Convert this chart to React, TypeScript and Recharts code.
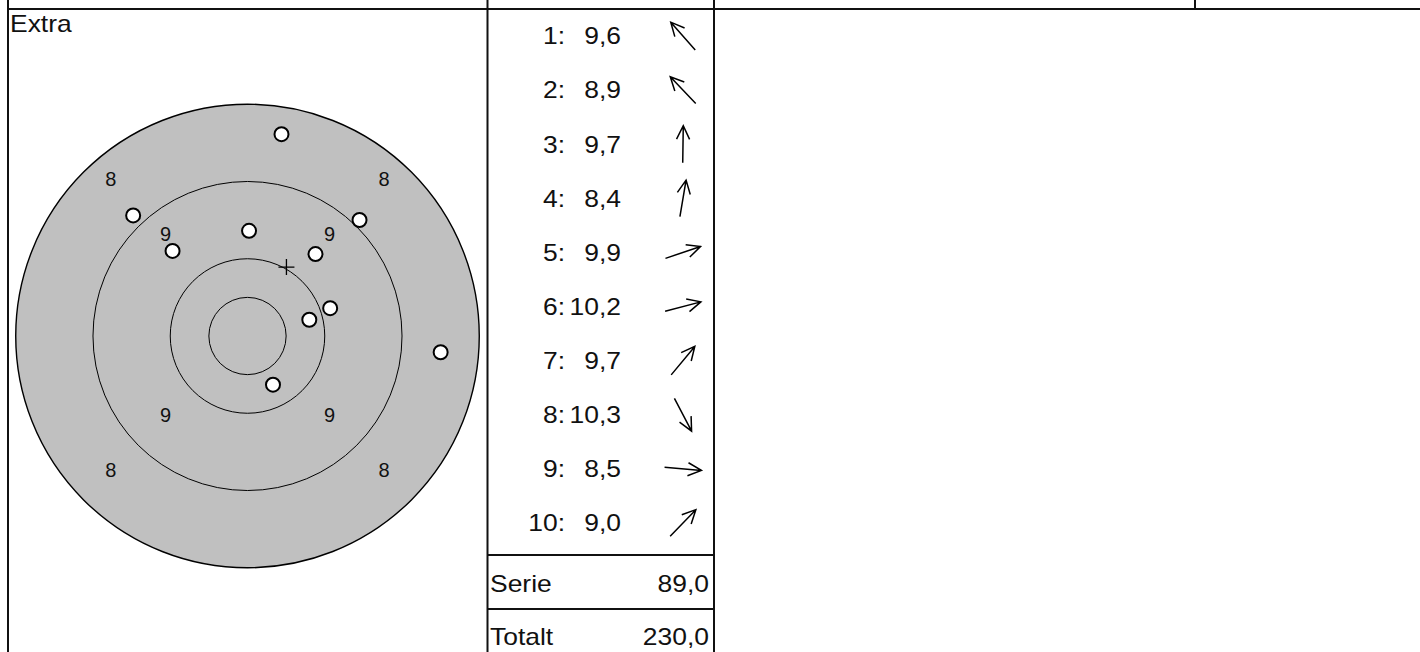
import React from 'react';
import { ScatterChart, Scatter, XAxis, YAxis } from 'recharts';

// shot series, coordinates in ring widths from the centre (y up)
const shotNumbers = [1, 2, 3, 4, 5, 6, 7, 8, 9, 10];
const shotScores = [9.6, 8.9, 9.7, 8.4, 9.9, 10.2, 9.7, 10.3, 8.5, 9.0];
const shotX = [-0.97, -1.48, 0.02, 0.44, 1.07, 0.8, 0.88, 0.33, 2.5, 1.45];
const shotY = [1.1, 1.56, 1.36, 2.61, 0.36, 0.21, 1.06, -0.63, -0.21, 1.5];

const ringRadii = [3, 2, 1, 0.5];
const ringLabels = [8, 9];
const seriesTitle = 'Extra';
const totalScore = 230.0;

const FONT = '"Liberation Sans", Arial, sans-serif';
const TARGET_W = 479;
const TARGET_H = 653;
const X_SPAN = 3.1;
const Y_SPAN = 4.1;
const PX = TARGET_W / (2 * X_SPAN);

const fmt = (v: number) => v.toFixed(1).replace('.', ',');

const shots = shotNumbers.map((n, i) => ({ n, x: shotX[i], y: shotY[i], score: shotScores[i] }));
const meanPoint = [
  {
    x: shots.reduce((s, p) => s + p.x, 0) / shots.length,
    y: shots.reduce((s, p) => s + p.y, 0) / shots.length,
  },
];
const rings = ringRadii.map((r) => ({ x: 0, y: 0, r }));
const labels = ringLabels.flatMap((v) => {
  const m = (11 - v - 0.5) * Math.SQRT1_2;
  return [
    { x: -m, y: m, v, up: true },
    { x: m, y: m, v, up: true },
    { x: -m, y: -m, v, up: false },
    { x: m, y: -m, v, up: false },
  ];
});
const rows = shots.map((s) => ({ x: 0, y: s.n, n: s.n, score: s.score, ang: Math.atan2(s.y, s.x) }));
const serie = shotScores.reduce((s, v) => s + Math.floor(v), 0);

const RingShape = (props: any) => {
  const { cx, cy, payload } = props;
  const outer = payload.r === ringRadii[0];
  return (
    <circle
      cx={cx}
      cy={cy}
      r={payload.r * PX}
      fill={outer ? '#c0c0c0' : 'none'}
      stroke="#000"
      strokeWidth={outer ? 1.4 : 1}
    />
  );
};

const LabelShape = (props: any) => {
  const { cx, cy, payload } = props;
  return (
    <text
      x={cx}
      y={cy + (payload.up ? -20 : -3) + 7}
      textAnchor="middle"
      fontSize={20}
      fontFamily={FONT}
      fill="#111"
    >
      {payload.v}
    </text>
  );
};

const ShotShape = (props: any) => (
  <circle cx={props.cx} cy={props.cy} r={7} fill="#fff" stroke="#000" strokeWidth={2} />
);

const CrossShape = (props: any) => {
  const { cx, cy } = props;
  return <path d={`M${cx - 8},${cy}H${cx + 8}M${cx},${cy - 8}V${cy + 8}`} stroke="#000" strokeWidth={1.3} />;
};

const TText = ({ x, y, anchor, children }: any) => (
  <text
    transform={`translate(${x},${y}) scale(1.15,1)`}
    textAnchor={anchor}
    fontSize={23}
    fontFamily={FONT}
    fill="#111"
  >
    {children}
  </text>
);

const RowShape = (props: any) => {
  const { cx, cy, payload } = props;
  const base = cy + 8.3;
  const ax = cx + 196;
  const dx = Math.cos(payload.ang);
  const dy = -Math.sin(payload.ang);
  const L = 18.5;
  const tx = ax + dx * L;
  const ty = cy + dy * L;
  const sx = ax - dx * L;
  const sy = cy - dy * L;
  const h = 15;
  const a = 0.45;
  const back = Math.atan2(-dy, -dx);
  const h1x = tx + h * Math.cos(back + a);
  const h1y = ty + h * Math.sin(back + a);
  const h2x = tx + h * Math.cos(back - a);
  const h2y = ty + h * Math.sin(back - a);
  return (
    <g>
      <TText x={cx + 78} y={base} anchor="end">{`${payload.n}:`}</TText>
      <TText x={cx + 134} y={base} anchor="end">{fmt(payload.score)}</TText>
      <path
        d={`M${sx},${sy}L${tx},${ty}M${h1x},${h1y}L${tx},${ty}L${h2x},${h2y}`}
        stroke="#000"
        strokeWidth={1.5}
        fill="none"
      />
    </g>
  );
};

export default function App() {
  const line = { stroke: '#111', strokeWidth: 2 };
  return (
    <div style={{ position: 'absolute', left: 0, top: 0, width: 1420, height: 652, background: '#fff', overflow: 'hidden' }}>
      <div style={{ position: 'absolute', left: 8, top: 0 }}>
        <ScatterChart width={TARGET_W} height={TARGET_H} margin={{ top: 19, right: 0, bottom: 0, left: 0 }}>
          <XAxis type="number" dataKey="x" domain={[-X_SPAN, X_SPAN]} allowDataOverflow hide />
          <YAxis type="number" dataKey="y" domain={[-Y_SPAN, Y_SPAN]} allowDataOverflow hide />
          <Scatter data={rings} shape={RingShape} isAnimationActive={false} />
          <Scatter data={labels} shape={LabelShape} isAnimationActive={false} />
          <Scatter data={shots} shape={ShotShape} isAnimationActive={false} />
          <Scatter data={meanPoint} shape={CrossShape} isAnimationActive={false} />
        </ScatterChart>
      </div>
      <div style={{ position: 'absolute', left: 487, top: 9 }}>
        <ScatterChart width={227} height={541} margin={{ top: 0, right: 0, bottom: 0, left: 0 }}>
          <XAxis type="number" dataKey="x" domain={[0, 1]} allowDataOverflow hide />
          <YAxis type="number" dataKey="y" domain={[0.5, 10.5]} reversed allowDataOverflow hide />
          <Scatter data={rows} shape={RowShape} isAnimationActive={false} />
        </ScatterChart>
      </div>
      <svg width={1420} height={652} style={{ position: 'absolute', left: 0, top: 0, pointerEvents: 'none' }}>
        <line x1={7} y1={9} x2={1420} y2={9} {...line} />
        <line x1={8} y1={0} x2={8} y2={652} {...line} />
        <line x1={487.5} y1={0} x2={487.5} y2={652} {...line} />
        <line x1={714} y1={0} x2={714} y2={652} {...line} />
        <line x1={1195} y1={0} x2={1195} y2={9} {...line} />
        <line x1={487} y1={555} x2={714} y2={555} {...line} />
        <line x1={487} y1={609} x2={714} y2={609} {...line} />
        <TText x={10} y={31.5} anchor="start">{seriesTitle}</TText>
        <TText x={490} y={592} anchor="start">Serie</TText>
        <TText x={709} y={592} anchor="end">{fmt(serie)}</TText>
        <TText x={490} y={644.5} anchor="start">Totalt</TText>
        <TText x={709} y={644.5} anchor="end">{fmt(totalScore)}</TText>
      </svg>
    </div>
  );
}
